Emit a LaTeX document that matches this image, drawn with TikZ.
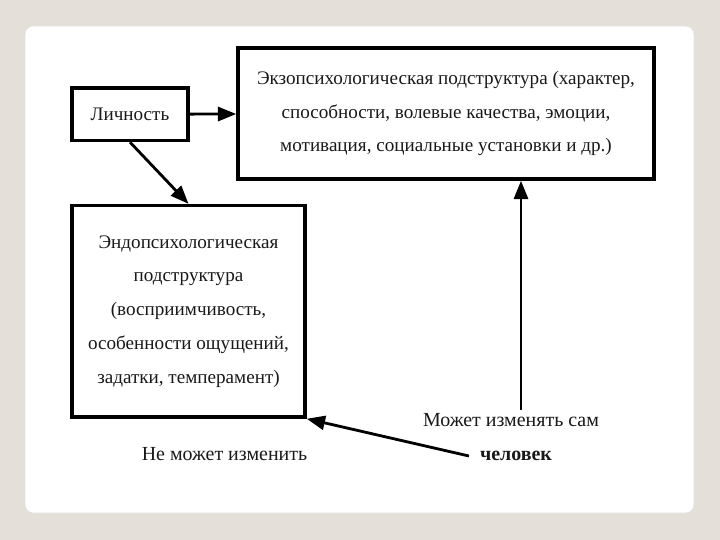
\documentclass[tikz,border=0pt]{standalone}
\usepackage{fontspec}
\setmainfont{Liberation Serif}
\usetikzlibrary{positioning, arrows.meta}
\definecolor{randgrau}{RGB}{228,224,217}
\tikzset{
    blok/.style    = {draw, line width=2.5pt, align=center, inner sep=4pt,
                      font=\fontsize{13.6}{24}\selectfont, text=black!90},
    strelka/.style = {-{Triangle[length=13pt, width=10pt]}, line width=2pt},
    podpis/.style  = {font=\fontsize{14.2}{16}\selectfont, text=black!90, inner sep=2pt}
}

\begin{document}
\begin{tikzpicture}[x=1cm, y=1cm]
        % --- Folie ---
        \fill[randgrau] (0,0) rectangle (18,-13.5);
        \filldraw[fill=white, draw=black!12, rounded corners=6pt] (0.625,-0.65) rectangle (17.35,-12.825);

        % --- Bloki ---
        \node[blok, minimum width=2.9cm, minimum height=1.31cm] (lichn) at (3.25,-2.856) {Личность};
        \node[blok, minimum width=10.4cm, minimum height=3.275cm] (ekzo) at (11.15,-2.8375)
            {Экзопсихологическая подструктура (характер,\\способности, волевые качества, эмоции,\\мотивация, социальные установки и др.)};
        \node[blok, minimum width=5.825cm, minimum height=5.285cm] (endo) at (4.7125,-7.7825)
            {Эндопсихологическая\\подструктура\\(восприимчивость,\\особенности ощущений,\\задатки, темперамент)};

        % --- Podpisi ---
        \node[podpis] (mozhet) at (12.775,-10.5) {Может изменять сам};
        \node[podpis, font=\fontsize{14.2}{16}\selectfont\bfseries] (chel) at (12.9,-11.4) {человек};
        \node[podpis] (nemozhet) at (5.6125,-11.3625) {Не может изменить};

        \draw[strelka] (lichn) -- (ekzo);
        \draw[strelka] (lichn.south) -- (endo.north);
        \draw[strelka] ([xshift=0.25cm]mozhet.north) -- ([xshift=0.25cm]mozhet.north |- ekzo.south);
        \draw[strelka] ([xshift=-0.2cm]chel.west) -- (endo.south east);
    \end{tikzpicture}
\end{document}
